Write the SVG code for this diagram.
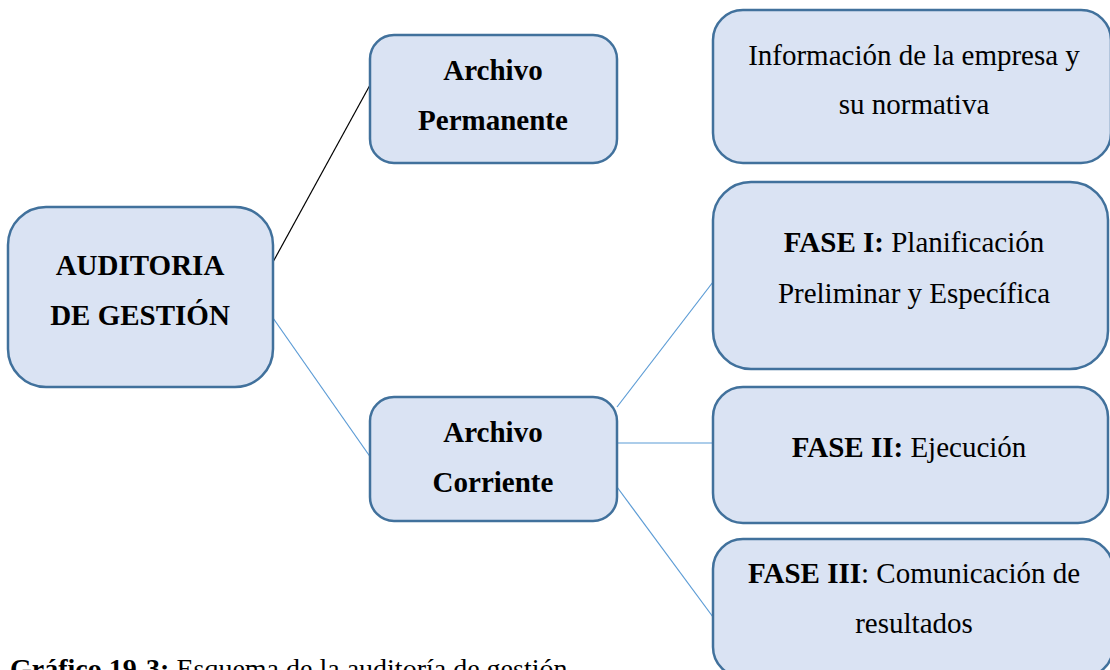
<svg xmlns="http://www.w3.org/2000/svg" width="1110" height="670" viewBox="0 0 1110 670">
<style>
.box{fill:#DAE3F3;stroke:#41719C;stroke-width:2.5}
.t{font-family:"Liberation Serif","Times New Roman",serif;font-size:29px;fill:#000;text-anchor:middle}
.b{font-weight:bold}
.c{stroke:#5B9BD5;stroke-width:1.2;fill:none}
.k{stroke:#000;stroke-width:1.2;fill:none}
</style>
<rect width="1110" height="670" fill="#fff"/>
<g id="connectors">
<line class="k" x1="273" y1="262" x2="370" y2="85"/>
<line class="c" x1="273" y1="318" x2="371" y2="458"/>
<line class="c" x1="617" y1="407" x2="713" y2="282"/>
<line class="c" x1="617" y1="443" x2="713" y2="443"/>
<line class="c" x1="617" y1="487" x2="713" y2="617"/>
</g>
<g id="auditoria">
<rect class="box" x="8" y="207" width="265" height="180" rx="38"/>
<text class="t b" x="140" y="275">AUDITORIA</text>
<text class="t b" x="140" y="325">DE GESTIÓN</text>
</g>
<g id="permanente">
<rect class="box" x="370" y="35" width="247" height="128" rx="24"/>
<text class="t b" x="493" y="80">Archivo</text>
<text class="t b" x="493" y="130">Permanente</text>
</g>
<g id="corriente">
<rect class="box" x="370" y="397" width="247" height="124" rx="24"/>
<text class="t b" x="493" y="442">Archivo</text>
<text class="t b" x="493" y="492">Corriente</text>
</g>
<g id="informacion">
<rect class="box" x="713" y="10" width="398" height="153" rx="30"/>
<text class="t" x="914" y="65">Información de la empresa y</text>
<text class="t" x="914" y="114">su normativa</text>
</g>
<g id="fase1">
<rect class="box" x="713" y="182" width="395" height="187" rx="38"/>
<text class="t" x="914" y="252"><tspan class="b">FASE I:</tspan> Planificación</text>
<text class="t" x="914" y="303">Preliminar y Específica</text>
</g>
<g id="fase2">
<rect class="box" x="713" y="387" width="395" height="136" rx="30"/>
<text class="t" x="909" y="457"><tspan class="b">FASE II:</tspan> Ejecución</text>
</g>
<g id="fase3">
<rect class="box" x="713" y="539" width="400" height="138" rx="30"/>
<text class="t" x="914" y="583"><tspan class="b">FASE III</tspan>: Comunicación de</text>
<text class="t" x="914" y="633">resultados</text>
</g>
<g id="caption">
<text x="10" y="678" style="font-family:'Liberation Serif','Times New Roman',serif;font-size:28px;fill:#000"><tspan font-weight="bold">Gráfico 19-3:</tspan> Esquema de la auditoría de gestión</text>
</g>
</svg>
